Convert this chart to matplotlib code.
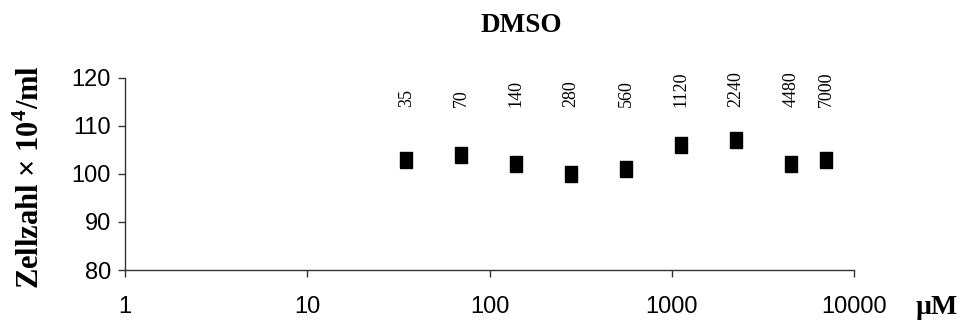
import numpy as np
import matplotlib.pyplot as plt
from matplotlib.ticker import FixedLocator, NullLocator

plt.rcParams['mathtext.fontset'] = 'custom'
plt.rcParams['mathtext.rm'] = 'Liberation Serif:bold'
plt.rcParams['mathtext.bf'] = 'Liberation Serif:bold'

# DMSO concentrations (uM) and cell counts (x 10^4 / ml)
conc = [35, 70, 140, 280, 560, 1120, 2240, 4480, 7000]
cells = [103, 104, 102, 100, 101, 106, 107, 102, 103]
conc_labels = ['35', '70', '140', '280', '560', '1120', '2240', '4480', '7000']
x_ticks = [1, 10, 100, 1000, 10000]
y_ticks = [80, 90, 100, 110, 120]

fig = plt.figure(figsize=(9.61, 3.23), dpi=100)
ax = fig.add_axes([0.130, 0.164, 0.759, 0.595])

# slightly tall square marker
box = [(-0.8, -1), (0.8, -1), (0.8, 1), (-0.8, 1), (-0.8, -1)]
ax.plot(conc, cells, linestyle='none', marker=box, markersize=11.5,
        color='black')

for x, lab in zip(conc, conc_labels):
    ax.text(x, 113.9, lab, rotation=90, ha='center', va='bottom',
            fontsize=13, family='Liberation Serif')

ax.set_xscale('log')
ax.set_xlim(1, 10000)
ax.set_ylim(80, 120)
ax.xaxis.set_major_locator(FixedLocator(x_ticks))
ax.xaxis.set_minor_locator(NullLocator())
ax.set_xticklabels([str(t) for t in x_ticks])
ax.yaxis.set_major_locator(FixedLocator(y_ticks))

for side in ['top', 'right']:
    ax.spines[side].set_visible(False)
for side in ['left', 'bottom']:
    ax.spines[side].set_color('#333333')
    ax.spines[side].set_linewidth(1.0)

ax.tick_params(axis='both', direction='out', length=5, width=1,
               color='#333333', labelsize=17)
ax.tick_params(axis='x', pad=14)
ax.tick_params(axis='y', pad=5)
for lab in ax.get_xticklabels() + ax.get_yticklabels():
    lab.set_family('Liberation Sans')

fig.text(521 / 961, 1 - 26 / 323, 'DMSO', ha='center', va='center',
         fontsize=19.5, fontweight='bold', family='Liberation Serif')
fig.text(31 / 961, 1 - 177 / 323, 'Zellzahl × 10$^{4}$/ml', rotation=90,
         ha='center', va='center', fontsize=22, fontweight='bold',
         family='Liberation Serif')
fig.text(937 / 961, 1 - 308 / 323, 'µM', ha='center', va='center',
         fontsize=20, fontweight='bold', family='Liberation Serif')

fig.savefig('out.png', dpi=100)
